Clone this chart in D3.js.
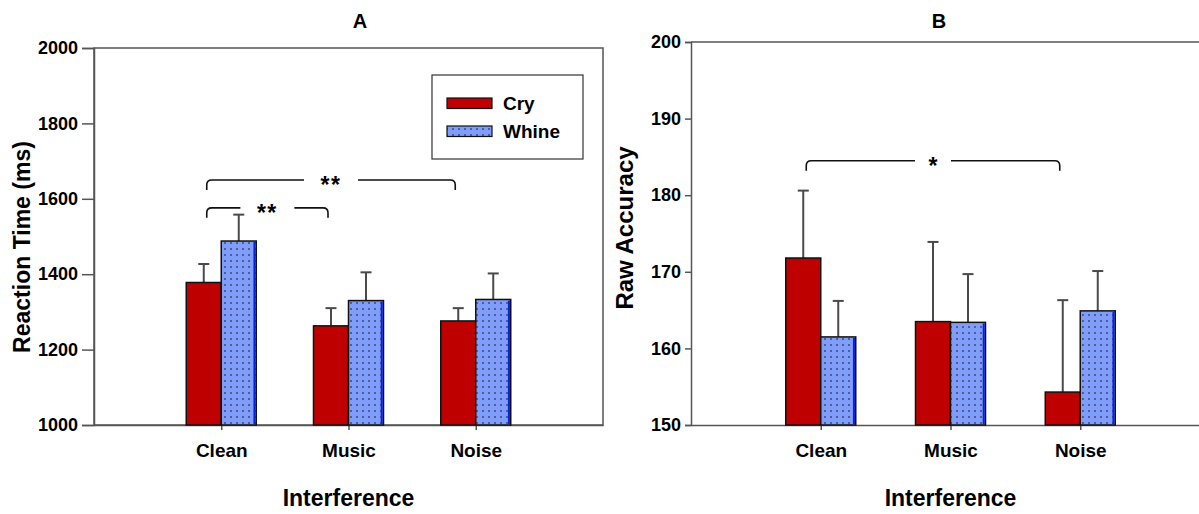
<!DOCTYPE html>
<html>
<head>
<meta charset="utf-8">
<script src="https://cdn.jsdelivr.net/npm/d3@7/dist/d3.min.js"></script>
<style>
  html, body { margin: 0; padding: 0; background: #fff; overflow: hidden; }
  svg { display: block; font-family: "Liberation Sans", Arial, Helvetica, sans-serif; font-weight: bold; }
</style>
</head>
<body>
<svg id="chart" width="1199" height="514"></svg>
<script>
// Conditions and groups
const categories = ["Clean", "Music", "Noise"];
const seriesNames = ["Cry", "Whine"];

// Panel A: reaction time (ms), means and error bar lengths
const rtCry = [1378, 1263, 1276];
const rtCryErr = [49, 47, 34];
const rtWhine = [1488, 1330, 1333];
const rtWhineErr = [70, 75, 69];
const rtTicks = [1000, 1200, 1400, 1600, 1800, 2000];

// Panel B: raw accuracy, means and error bar lengths
const accCry = [171.8, 163.5, 154.3];
const accCryErr = [8.8, 10.4, 12.0];
const accWhine = [161.5, 163.4, 164.9];
const accWhineErr = [4.7, 6.3, 5.2];
const accTicks = [150, 160, 170, 180, 190, 200];

// Significance brackets
const rtComparisons = [
  { from: "Clean", to: "Noise", label: "**", level: 1650 },
  { from: "Clean", to: "Music", label: "**", level: 1576 }
];
const accComparisons = [
  { from: "Clean", to: "Noise", label: "*", level: 184.5 }
];

const svg = d3.select("#chart");
const CRY_FILL = "#bf0000";
const WHINE_FILL = "#809df9";
const AXIS = "#555";

// Dotted fill used for the Whine bars
const defs = svg.append("defs");
const pat = defs.append("pattern")
  .attr("id", "dots")
  .attr("patternUnits", "userSpaceOnUse")
  .attr("width", 6).attr("height", 6);
pat.append("rect").attr("width", 6).attr("height", 6).attr("fill", WHINE_FILL);
pat.append("rect").attr("x", 2.3).attr("y", 2.3).attr("width", 1.4).attr("height", 1.4).attr("fill", "#1a1a40");

function drawPanel(cfg) {
  const g = svg.append("g");
  const x = d3.scalePoint().domain(["", ...categories, " "]).range([cfg.left, cfg.right]);
  const y = d3.scaleLinear().domain(cfg.domain).range([cfg.bottom, cfg.top]);
  const barW = 35;

  // Frame
  if (cfg.box) {
    g.append("rect")
      .attr("x", cfg.left).attr("y", cfg.top)
      .attr("width", cfg.right - cfg.left).attr("height", cfg.bottom - cfg.top)
      .attr("fill", "none").attr("stroke", AXIS).attr("stroke-width", 1.5);
  } else {
    g.append("line")
      .attr("x1", cfg.left).attr("x2", cfg.right)
      .attr("y1", cfg.top).attr("y2", cfg.top)
      .attr("stroke", AXIS).attr("stroke-width", 1.5);
  }

  // Y axis
  const yAxis = g.append("g")
    .attr("transform", `translate(${cfg.left},0)`)
    .call(d3.axisLeft(y).tickValues(cfg.ticks).tickSize(cfg.tickSize).tickPadding(4).tickFormat(d3.format("d")));
  yAxis.select(".domain").attr("stroke", AXIS).attr("stroke-width", 1.5);
  yAxis.selectAll(".tick line").attr("stroke", AXIS).attr("stroke-width", 1.5);
  yAxis.selectAll(".tick text")
    .attr("fill", "#000").attr("font-size", 18).attr("font-weight", "bold")
    .attr("font-family", "Liberation Sans, Arial, sans-serif");

  // X axis
  const xAxis = g.append("g")
    .attr("transform", `translate(0,${cfg.bottom})`)
    .call(d3.axisBottom(x).tickValues(categories).tickSize(5).tickPadding(14).tickSizeOuter(0));
  xAxis.select(".domain").attr("stroke", AXIS).attr("stroke-width", 1.5);
  xAxis.selectAll(".tick line").attr("stroke", AXIS).attr("stroke-width", 1.5);
  xAxis.selectAll(".tick text")
    .attr("fill", "#000").attr("font-size", 19).attr("font-weight", "bold")
    .attr("font-family", "Liberation Sans, Arial, sans-serif");

  // Error bars (drawn first, bars sit on top)
  const bars = [];
  categories.forEach((c, i) => {
    bars.push({ cat: c, s: 0, v: cfg.cry[i], e: cfg.cryErr[i], x0: x(c) - barW });
    bars.push({ cat: c, s: 1, v: cfg.whine[i], e: cfg.whineErr[i], x0: x(c) });
  });
  const eb = g.append("g").attr("stroke", "#4a4a4a").attr("stroke-width", 2);
  bars.forEach(b => {
    const cx = b.x0 + barW / 2;
    eb.append("line").attr("x1", cx).attr("x2", cx).attr("y1", y(b.v)).attr("y2", y(b.v + b.e));
    eb.append("line").attr("x1", cx - 5.5).attr("x2", cx + 5.5).attr("y1", y(b.v + b.e)).attr("y2", y(b.v + b.e));
  });

  // Bars
  bars.forEach(b => {
    const top = y(b.v), h = cfg.bottom - top;
    g.append("rect")
      .attr("x", b.x0).attr("y", top).attr("width", barW).attr("height", h)
      .attr("fill", b.s === 0 ? CRY_FILL : "url(#dots)")
      .attr("stroke", "#111").attr("stroke-width", 1.5);
    if (b.s === 1) {
      g.append("line")
        .attr("x1", b.x0 + barW - 1.8).attr("x2", b.x0 + barW - 1.8)
        .attr("y1", top + 1).attr("y2", cfg.bottom - 1)
        .attr("stroke", "#0a1fe0").attr("stroke-width", 2);
    }
  });

  // Significance brackets
  cfg.comparisons.forEach(cmp => {
    const x1 = x(cmp.from) - barW / 2 + 3;
    const x2 = x(cmp.to) - barW / 2 - 3;
    const yy = y(cmp.level);
    const mid = (x1 + x2) / 2;
    const gap = cmp.label.length === 1 ? 18 : 27;
    const r = 5, drop = 10;
    const br = g.append("g").attr("fill", "none").attr("stroke", "#111").attr("stroke-width", 1.6);
    br.append("path").attr("d",
      `M${x1},${yy + drop} L${x1},${yy + r} Q${x1},${yy} ${x1 + r},${yy} L${mid - gap},${yy}`);
    br.append("path").attr("d",
      `M${mid + gap},${yy} L${x2 - r},${yy} Q${x2},${yy} ${x2},${yy + r} L${x2},${yy + drop}`);
    g.append("text")
      .attr("x", mid).attr("y", yy + 13)
      .attr("text-anchor", "middle").attr("font-size", 23)
      .attr("letter-spacing", cmp.label.length > 1 ? 1.5 : 0)
      .attr("font-weight", "bold")
      .text(cmp.label);
  });

  // Titles
  g.append("text").attr("x", cfg.titleX).attr("y", 28)
    .attr("text-anchor", "middle").attr("font-size", 20).text(cfg.title);
  g.append("text")
    .attr("transform", `translate(${cfg.yLabelX},${cfg.yLabelY}) rotate(-90)`)
    .attr("text-anchor", "middle").attr("font-size", cfg.yLabelSize).text(cfg.yLabel);
  g.append("text")
    .attr("x", x("Music")).attr("y", 506)
    .attr("text-anchor", "middle").attr("font-size", 23).text("Interference");

  return { x, y };
}

drawPanel({
  left: 94, right: 603, top: 48, bottom: 425, box: true,
  domain: [1000, 2000], ticks: rtTicks, tickSize: 12,
  cry: rtCry, cryErr: rtCryErr, whine: rtWhine, whineErr: rtWhineErr,
  comparisons: rtComparisons,
  title: "A", titleX: 360, yLabel: "Reaction Time (ms)", yLabelSize: 23, yLabelX: 30, yLabelY: 247
});

drawPanel({
  left: 691, right: 1210, top: 42, bottom: 425, box: false,
  domain: [150, 200], ticks: accTicks, tickSize: 6,
  cry: accCry, cryErr: accCryErr, whine: accWhine, whineErr: accWhineErr,
  comparisons: accComparisons,
  title: "B", titleX: 939, yLabel: "Raw Accuracy", yLabelSize: 24, yLabelX: 633, yLabelY: 228
});

// Legend for panel A
const legend = svg.append("g");
legend.append("rect")
  .attr("x", 432).attr("y", 75).attr("width", 151).attr("height", 84)
  .attr("fill", "#fff").attr("stroke", "#333").attr("stroke-width", 1.2);
seriesNames.forEach((name, i) => {
  const yy = 98 + i * 28;
  legend.append("rect")
    .attr("x", 447).attr("y", yy).attr("width", 45).attr("height", 10.5)
    .attr("fill", i === 0 ? CRY_FILL : "url(#dots)")
    .attr("stroke", "#111").attr("stroke-width", 1.2);
  legend.append("text")
    .attr("x", 503).attr("y", yy + 12)
    .attr("font-size", 19).text(name);
});
</script>
</body>
</html>
